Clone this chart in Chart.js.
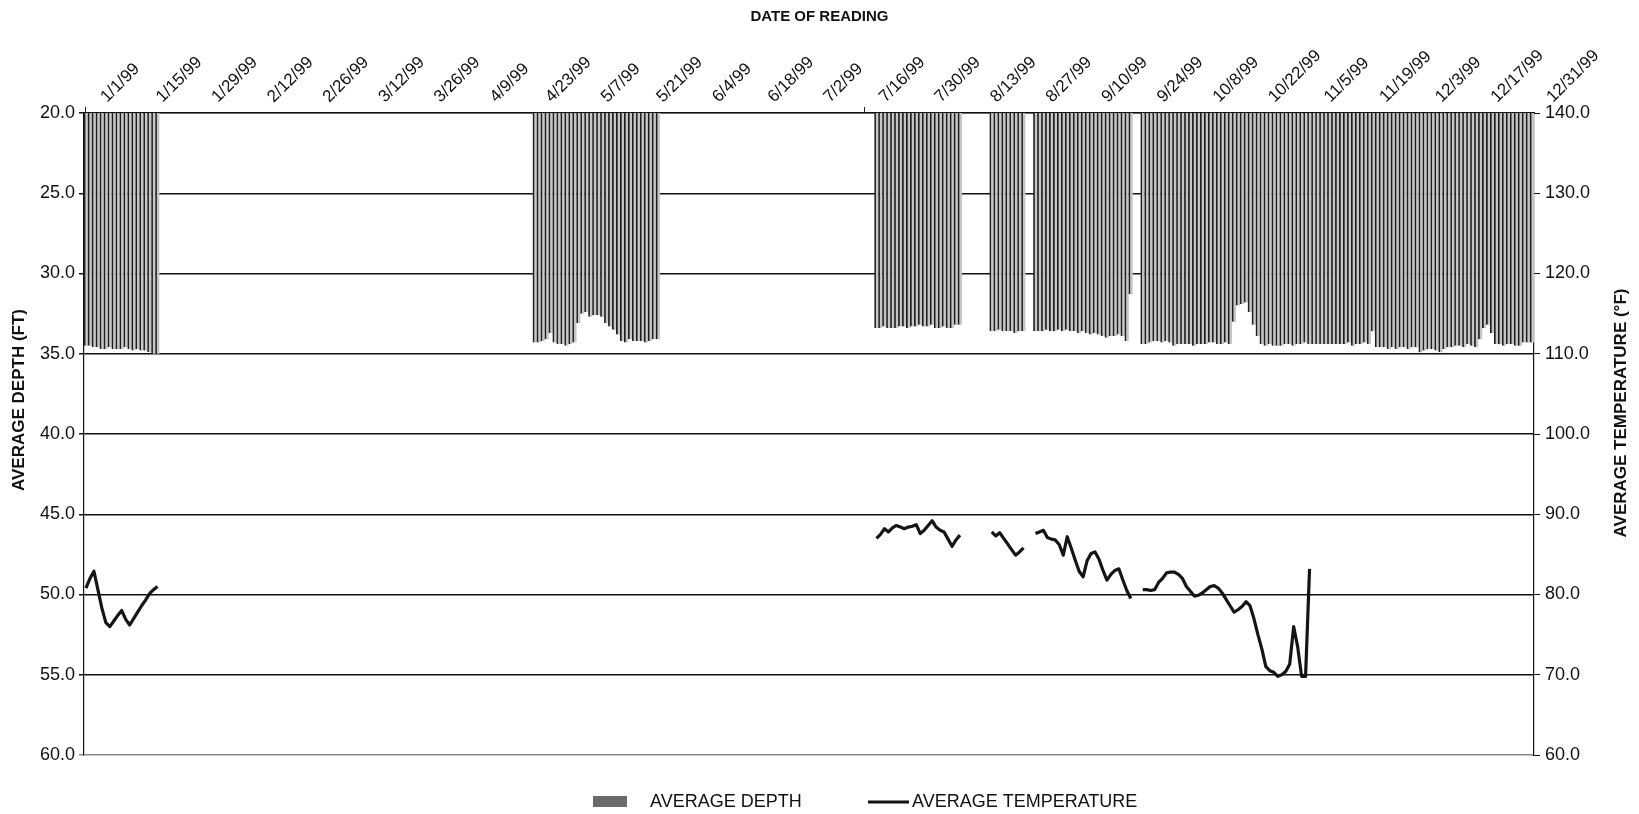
<!DOCTYPE html>
<html>
<head>
<meta charset="utf-8">
<title>Average depth and temperature, 1999</title>
<script src="https://cdn.jsdelivr.net/npm/chart.js@4.4.0/dist/chart.umd.min.js"></script>
<style>
  html, body { margin: 0; padding: 0; background: #fff; }
  #wrap { width: 1639px; height: 814px; }
</style>
</head>
<body>
<div id="wrap"><canvas id="main-chart" width="1639" height="814"></canvas></div>
<script>
// labels on the top axis, every two weeks
const tickLabels = ["1/1/99", "1/15/99", "1/29/99", "2/12/99", "2/26/99", "3/12/99", "3/26/99", "4/9/99",
  "4/23/99", "5/7/99", "5/21/99", "6/4/99", "6/18/99", "7/2/99", "7/16/99", "7/30/99", "8/13/99",
  "8/27/99", "9/10/99", "9/24/99", "10/8/99", "10/22/99", "11/5/99", "11/19/99", "12/3/99",
  "12/17/99", "12/31/99"];

// daily average depth (ft), one array per run of readings
const depthJan = [34.5, 34.5, 34.6, 34.6, 34.7, 34.7, 34.6, 34.7, 34.7, 34.7, 34.6, 34.7, 34.8, 34.7,
  34.8, 34.8, 34.9, 35.0, 35.0];
const depthApr = [34.3, 34.3, 34.2, 34.1, 33.7, 34.3, 34.4, 34.4, 34.5, 34.4, 34.3, 33.1, 32.5, 32.4,
  32.7, 32.6, 32.6, 32.7, 33.1, 33.3, 33.5, 33.8, 34.2, 34.3, 34.1, 34.2, 34.2, 34.2, 34.3, 34.2,
  34.1, 34.1];
const depthJul = [33.4, 33.4, 33.3, 33.4, 33.4, 33.4, 33.3, 33.3, 33.4, 33.3, 33.3, 33.2, 33.3, 33.3,
  33.2, 33.4, 33.4, 33.3, 33.4, 33.4, 33.2, 33.2];
const depthAug = [33.6, 33.6, 33.5, 33.6, 33.6, 33.6, 33.7, 33.6, 33.6];
const depthSep = [33.6, 33.6, 33.6, 33.5, 33.6, 33.6, 33.5, 33.6, 33.5, 33.6, 33.6, 33.7, 33.6, 33.7,
  33.8, 33.7, 33.8, 33.9, 34.0, 33.9, 33.9, 33.8, 33.9, 34.2, 31.3];
const depthFall = [34.4, 34.4, 34.3, 34.2, 34.2, 34.3, 34.2, 34.3, 34.5, 34.4, 34.4, 34.4, 34.4, 34.5,
  34.4, 34.4, 34.4, 34.3, 34.3, 34.4, 34.4, 34.3, 34.4,
  33.0, 32.0, 31.9, 31.8, 32.4, 33.2, 33.9, 34.4, 34.5,
  34.4, 34.5, 34.5, 34.5, 34.4, 34.4, 34.5, 34.4, 34.4, 34.3, 34.4, 34.4, 34.4, 34.4, 34.4, 34.4,
  34.4, 34.4, 34.4,
  34.4, 34.3, 34.5, 34.4, 34.4, 34.3, 34.4, 33.6, 34.6, 34.6,
  34.6, 34.7, 34.6, 34.7, 34.6, 34.6, 34.7, 34.6, 34.6, 34.9,
  34.8, 34.7, 34.7, 34.8, 34.9, 34.7, 34.6, 34.6, 34.5, 34.5,
  34.6, 34.4, 34.5, 34.6, 34.1, 33.4, 33.2, 33.7,
  34.4, 34.4, 34.5, 34.4, 34.4, 34.5, 34.5, 34.3, 34.3, 34.3];

// daily average temperature (°F)
const tempJan = [80.8, 82.0, 82.9, 80.6, 78.3, 76.5, 76.0, 76.7, 77.4, 78.0, 76.9, 76.2, 77.0, 77.8,
  78.6, 79.3, 80.1, 80.6, 81.0];
const tempJul = [87.0, 87.5, 88.2, 87.8, 88.3, 88.6, 88.4, 88.2, 88.4, 88.5, 88.7, 87.6, 88.0, 88.6,
  89.2, 88.4, 88.0, 87.8, 86.9, 86.0, 86.8, 87.4];
const tempAug = [87.8, 87.3, 87.7, 87.0, 86.3, 85.6, 84.9, 85.3, 85.8];
const tempSep = [87.6, 87.8, 88.0, 87.1, 86.9, 86.8, 86.2, 84.9, 87.2, 85.8, 84.3, 82.9, 82.2, 84.2,
  85.1, 85.3, 84.4, 83.0, 81.8, 82.5, 83.0, 83.2, 81.8, 80.5, 79.5];
const tempFall = [80.6, 80.6, 80.5, 80.6, 81.5, 82.0, 82.7, 82.8, 82.8, 82.5, 82.0, 81.0, 80.4, 79.8,
  79.9, 80.2, 80.6, 81.0, 81.1, 80.8, 80.2, 79.4, 78.6, 77.8, 78.1, 78.5, 79.1, 78.6, 77.0, 75.0,
  73.2, 71.0, 70.5, 70.3, 69.8, 70.0, 70.4, 71.3, 76.0, 73.5, 69.8, 69.8, 83.2];

// first day of each run
const depthRuns = [["1/1/99", depthJan], ["4/24/99", depthApr], ["7/19/99", depthJul],
  ["8/17/99", depthAug], ["8/28/99", depthSep], ["9/24/99", depthFall]];
const tempRuns = [["1/1/99", tempJan], ["7/19/99", tempJul], ["8/17/99", tempAug],
  ["8/28/99", tempSep], ["9/24/99", tempFall]];

// one category per day of 1999
const days = [];
for (let i = 0; i < 365; i++) {
  const d = new Date(1999, 0, 1 + i);
  days.push((d.getMonth() + 1) + "/" + d.getDate() + "/99");
}

// put each run on its days, missing days stay null (gaps)
function spread(runs) {
  const out = days.map(() => null);
  runs.forEach(([start, values]) => {
    const first = days.indexOf(start);
    values.forEach((v, k) => { out[first + k] = v; });
  });
  return out;
}

const shown = new Set(tickLabels);
const FONT = "'Liberation Sans', Arial, sans-serif";

Chart.defaults.font.family = FONT;
Chart.defaults.color = "#111";

// axis titles read bottom to top on both sides, legend sits off-centre below the plot
const extras = {
  id: "extras",
  afterDraw(chart) {
    const { ctx } = chart;
    const sc = chart.options.scales;
    ctx.save();
    ctx.fillStyle = "#111";
    ctx.textBaseline = "middle";
    ctx.textAlign = "center";
    ctx.font = "bold 17px " + FONT;
    [[sc.y.title.text, 19, 400], [sc.yT.title.text, 1621, 413]].forEach(([t, x, y]) => {
      ctx.save();
      ctx.translate(x, y);
      ctx.rotate(-Math.PI / 2);
      ctx.fillText(t, 0, 0);
      ctx.restore();
    });

    const sets = chart.data.datasets;
    ctx.font = "18px " + FONT;
    ctx.textAlign = "left";
    ctx.fillStyle = "#6a6a6a";
    ctx.fillRect(593, 796, 34, 11);
    ctx.fillStyle = "#111";
    ctx.fillText(sets[0].label, 650, 802);
    ctx.strokeStyle = "#111";
    ctx.lineWidth = 3;
    ctx.beginPath();
    ctx.moveTo(868, 802);
    ctx.lineTo(909, 802);
    ctx.stroke();
    ctx.fillText(sets[1].label, 912, 802);
    ctx.restore();
  }
};

const ctx = document.getElementById("main-chart").getContext("2d");

new Chart(ctx, {
  type: "bar",
  data: {
    labels: days,
    datasets: [
      {
        type: "bar",
        label: "AVERAGE DEPTH",
        data: spread(depthRuns),
        yAxisID: "y",
        backgroundColor: "#c6c6c6",
        borderColor: "#1e1e1e",
        borderWidth: { left: 1.7, right: 0, top: 0, bottom: 0 },
        borderSkipped: false,
        barPercentage: 1,
        categoryPercentage: 1,
        order: 2,
      },
      {
        type: "line",
        label: "AVERAGE TEMPERATURE",
        data: spread(tempRuns),
        yAxisID: "yT",
        borderColor: "#151515",
        borderWidth: 3.2,
        pointRadius: 0,
        tension: 0,
        spanGaps: false,
        borderJoinStyle: "round",
        order: 1,
      },
    ],
  },
  options: {
    responsive: false,
    animation: false,
    layout: { padding: { top: 0, left: 0, right: 0, bottom: 59 } },
    plugins: {
      legend: { display: false },
      tooltip: { enabled: false },
      title: {
        display: true,
        text: "DATE OF READING",
        font: { size: 15, weight: "bold" },
        color: "#111",
        padding: { top: 8, bottom: 0 },
      },
    },
    scales: {
      x: {
        type: "category",
        position: "top",
        offset: true,
        grid: {
          offset: false,
          drawOnChartArea: false,
          tickLength: 6,
          color: (c) => (shown.has(days[c.index]) ? "#222" : "rgba(0,0,0,0)"),
        },
        border: { display: true, color: "#111", width: 1.2 },
        ticks: {
          autoSkip: false,
          minRotation: 45,
          maxRotation: 45,
          padding: 0,
          labelOffset: 32,
          font: { size: 17 },
          color: "#111",
          callback: (v, i) => (shown.has(days[i]) ? days[i] : null),
        },
        afterFit: (s) => { s.height = 87; },
      },
      y: {
        position: "left",
        reverse: true,
        min: 20,
        max: 60,
        title: { display: false, text: "AVERAGE DEPTH (FT)" },
        ticks: {
          stepSize: 5,
          padding: 4,
          font: { size: 18 },
          color: "#111",
          callback: (v) => v.toFixed(1),
        },
        grid: {
          color: (c) => (c.tick && c.tick.value === 60 ? "#8a8a8a" : "#111"),
          lineWidth: 1.5,
          tickLength: 5,
        },
        border: { display: true, color: "#111", width: 1.2 },
        afterFit: (s) => { s.width = 84; },
      },
      yT: {
        position: "right",
        min: 60,
        max: 140,
        title: { display: false, text: "AVERAGE TEMPERATURE (°F)" },
        ticks: {
          stepSize: 10,
          padding: 5,
          font: { size: 18 },
          color: "#111",
          callback: (v) => v.toFixed(1),
        },
        grid: { drawOnChartArea: false, tickLength: 6, color: "#111" },
        border: { display: true, color: "#111", width: 1.2 },
        afterFit: (s) => { s.width = 105; },
      },
    },
  },
  plugins: [extras],
});
</script>
</body>
</html>
